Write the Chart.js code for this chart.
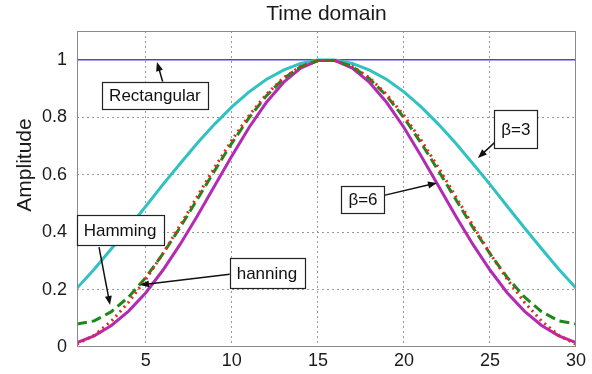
<!DOCTYPE html>
<html>
<head>
<meta charset="utf-8">
<script src="https://cdn.jsdelivr.net/npm/chart.js@4.4.0/dist/chart.umd.min.js"></script>
<style>
html,body{margin:0;padding:0;background:#fff;}
#wrap{width:592px;height:374px;position:relative;}
</style>
</head>
<body>
<div id="wrap"><canvas id="c" width="592" height="374"></canvas></div>
<script>
// ---- data ----
const sampleIndex = [1,2,3,4,5,6,7,8,9,10,11,12,13,14,15,16,17,18,19,20,21,22,23,24,25,26,27,28,29,30];
const rectangular = [1,1,1,1,1,1,1,1,1,1,1,1,1,1,1,1,1,1,1,1,1,1,1,1,1,1,1,1,1,1];
const kaiserBeta3 = [0.205,0.271,0.342,0.415,0.490,0.566,0.639,0.710,0.776,0.836,0.888,0.931,0.964,0.987,0.999,
                     0.999,0.987,0.964,0.931,0.888,0.836,0.776,0.710,0.639,0.566,0.490,0.415,0.342,0.271,0.205];
const kaiserBeta6 = [0.015,0.039,0.075,0.125,0.189,0.268,0.358,0.457,0.561,0.665,0.764,0.851,0.921,0.971,0.997,
                     0.997,0.971,0.921,0.851,0.764,0.665,0.561,0.457,0.358,0.268,0.189,0.125,0.075,0.039,0.015];
const hamming     = [0.080,0.091,0.123,0.174,0.242,0.325,0.417,0.515,0.614,0.710,0.798,0.874,0.934,0.976,0.997,
                     0.997,0.976,0.934,0.874,0.798,0.710,0.614,0.515,0.417,0.325,0.242,0.174,0.123,0.091,0.080];
const hanning     = [0.010,0.041,0.090,0.156,0.236,0.326,0.424,0.525,0.625,0.720,0.806,0.879,0.937,0.977,0.997,
                     0.997,0.977,0.937,0.879,0.806,0.720,0.625,0.525,0.424,0.326,0.236,0.156,0.090,0.041,0.010];
const xTicks = [5,10,15,20,25,30];
const yTicks = [0,0.2,0.4,0.6,0.8,1];
const chartTitle = "Time domain";
const yAxisTitle = "Amplitude";
// annotation labels: text, box centre (data units), arrow tail, arrow tip (data units)
const noteText  = ["Rectangular", "Hamming", "hanning", "\u03b2=3", "\u03b2=6"];
const noteBox   = [[5.53,0.877],[3.50,0.407],[12.04,0.258],[26.5,0.759],[17.62,0.515]];
const noteTail  = [[6.00,0.919],[2.28,0.348],[10.00,0.254],[25.87,0.745],[18.72,0.526]];
const noteTip   = [[5.65,0.992],[2.92,0.146],[4.66,0.216],[24.30,0.658],[21.92,0.571]];
const noteBoxH  = [27, 30, 30, 38, 27];

const pts = arr => sampleIndex.map((x,i)=>({x:x, y:arr[i]}));
const FONT = "'Liberation Sans', Arial, sans-serif";

const overlay = {
  id:'overlay',
  afterDatasetsDraw(chart){
    const ctx = chart.ctx, a = chart.chartArea, sx = chart.scales.x, sy = chart.scales.y;
    ctx.save();
    // axes box
    ctx.strokeStyle = '#8a8a8a'; ctx.lineWidth = 1; ctx.setLineDash([]);
    ctx.strokeRect(a.left+0.5, a.top+0.5, a.right-a.left-1, a.bottom-a.top-1);
    // annotations
    ctx.font = "17px " + FONT;
    ctx.textAlign = 'center'; ctx.textBaseline = 'middle';
    for (let i=0;i<noteText.length;i++){
      const t = noteText[i];
      const cx = sx.getPixelForValue(noteBox[i][0]), cy = sy.getPixelForValue(noteBox[i][1]);
      const w = ctx.measureText(t).width + 14, h = noteBoxH[i];
      // arrow
      const x1 = sx.getPixelForValue(noteTail[i][0]), y1 = sy.getPixelForValue(noteTail[i][1]);
      const x2 = sx.getPixelForValue(noteTip[i][0]),  y2 = sy.getPixelForValue(noteTip[i][1]);
      const ang = Math.atan2(y2-y1, x2-x1);
      ctx.strokeStyle = '#111'; ctx.fillStyle = '#111'; ctx.lineWidth = 1.5;
      ctx.beginPath(); ctx.moveTo(x1,y1); ctx.lineTo(x2-6*Math.cos(ang), y2-6*Math.sin(ang)); ctx.stroke();
      ctx.beginPath();
      ctx.moveTo(x2,y2);
      ctx.lineTo(x2-9*Math.cos(ang)+3.5*Math.sin(ang), y2-9*Math.sin(ang)-3.5*Math.cos(ang));
      ctx.lineTo(x2-9*Math.cos(ang)-3.5*Math.sin(ang), y2-9*Math.sin(ang)+3.5*Math.cos(ang));
      ctx.closePath(); ctx.fill();
      // box
      ctx.fillStyle = '#fff';
      ctx.fillRect(cx-w/2, cy-h/2, w, h);
      ctx.strokeStyle = '#222'; ctx.lineWidth = 1.2;
      ctx.strokeRect(Math.round(cx-w/2)+0.5, Math.round(cy-h/2)+0.5, Math.round(w), h);
      ctx.fillStyle = '#111';
      ctx.fillText(t, cx, cy+1);
    }
    // title
    ctx.font = "21px " + FONT; ctx.fillStyle = '#1a1a1a';
    ctx.textAlign = 'center'; ctx.textBaseline = 'alphabetic';
    ctx.fillText(chartTitle, (a.left+a.right)/2, 20);
    // y axis title
    ctx.translate(31, 165); ctx.rotate(-Math.PI/2);
    ctx.textBaseline = 'alphabetic';
    ctx.fillText(yAxisTitle, 0, 0);
    ctx.restore();
  }
};

new Chart(document.getElementById('c'), {
  type:'line',
  data:{
    datasets:[
      {label:'hanning', data:pts(hanning), borderColor:'#e8281e', borderWidth:3, borderDash:[2,4], pointRadius:0, tension:0},
      {label:'Hamming', data:pts(hamming), borderColor:'#1b8a1b', borderWidth:3, borderDash:[10,5], pointRadius:0, tension:0},
      {label:'Kaiser beta=6', data:pts(kaiserBeta6), borderColor:'#b32bb3', borderWidth:3, pointRadius:0, tension:0},
      {label:'Kaiser beta=3', data:pts(kaiserBeta3), borderColor:'#30c2c2', borderWidth:3, pointRadius:0, tension:0},
      {label:'Rectangular', data:pts(rectangular), borderColor:'#5344c8', borderWidth:1.6, pointRadius:0, tension:0}
    ]
  },
  options:{
    responsive:false, animation:false, devicePixelRatio:1,
    layout:{padding:{top:31,right:16,left:0,bottom:0}},
    plugins:{legend:{display:false}, title:{display:false}, tooltip:{enabled:false}},
    scales:{
      x:{type:'linear', min:1, max:30,
         afterBuildTicks:s=>{s.ticks = xTicks.map(v=>({value:v}));},
         afterFit:s=>{s.height = 27;},
         grid:{drawTicks:false, color:c=>(c.tick && c.tick.value===30)?'rgba(0,0,0,0)':'#9a9a9a', lineWidth:1},
         border:{display:false, dash:[2,3]},
         ticks:{padding:3, color:'#1a1a1a', font:{family:FONT, size:18}, maxRotation:0}
      },
      y:{type:'linear', min:0, max:1.1,
         afterBuildTicks:s=>{s.ticks = yTicks.map(v=>({value:v}));},
         afterFit:s=>{s.width = 77;},
         grid:{drawTicks:false, color:c=>(c.tick && c.tick.value===0)?'rgba(0,0,0,0)':'#9a9a9a', lineWidth:1},
         border:{display:false, dash:[2,3]},
         ticks:{padding:10, color:'#1a1a1a', font:{family:FONT, size:18}, callback:v=>String(v)}
      }
    }
  },
  plugins:[overlay]
});
</script>
</body>
</html>
